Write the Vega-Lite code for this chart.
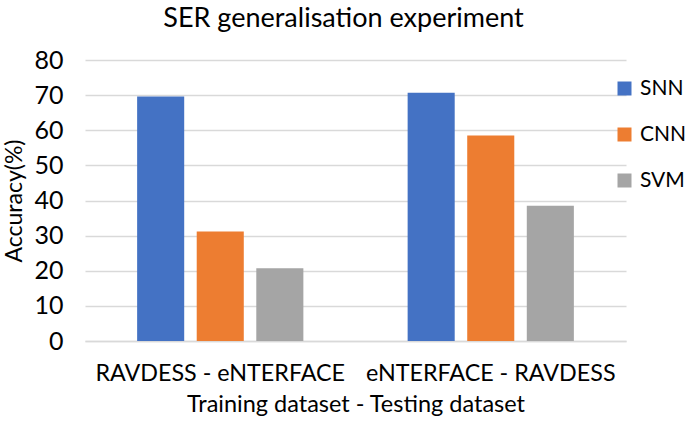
{
  "$schema": "https://vega.github.io/schema/vega-lite/v6.json",
  "width": 541,
  "height": 281,
  "autosize": {"type": "none"},
  "padding": {"left": 85, "top": 60, "right": 59, "bottom": 86},
  "background": "white",
  "config": {
    "font": "Lato",
    "view": {"stroke": null}
  },
  "title": {
    "text": "SER generalisation experiment",
    "fontSize": 27,
    "fontWeight": "normal",
    "color": "#000000",
    "anchor": "middle",
    "frame": "group",
    "offset": 15,
    "dx": -12
  },
  "data": {
    "values": [
      {"pair": "RAVDESS - eNTERFACE", "model": "SNN", "accuracy": 69.6},
      {"pair": "RAVDESS - eNTERFACE", "model": "CNN", "accuracy": 31.2},
      {"pair": "RAVDESS - eNTERFACE", "model": "SVM", "accuracy": 20.7},
      {"pair": "eNTERFACE - RAVDESS", "model": "SNN", "accuracy": 70.7},
      {"pair": "eNTERFACE - RAVDESS", "model": "CNN", "accuracy": 58.5},
      {"pair": "eNTERFACE - RAVDESS", "model": "SVM", "accuracy": 38.5}
    ]
  },
  "mark": {"type": "bar"},
  "encoding": {
    "x": {
      "field": "pair",
      "type": "nominal",
      "sort": null,
      "scale": {"paddingInner": 0, "paddingOuter": 0},
      "axis": {
        "title": "Training dataset - Testing dataset",
        "titleFontSize": 23.5,
        "titleFontWeight": "normal",
        "titleColor": "#000000",
        "titlePadding": 8,
        "labelAngle": 0,
        "labelFontSize": 23.3,
        "labelColor": "#000000",
        "labelPadding": 21,
        "labelLimit": 0,
        "ticks": false,
        "domainColor": "#d9d9d9",
        "domainWidth": 1.5
      }
    },
    "xOffset": {
      "field": "model",
      "type": "nominal",
      "sort": ["SNN", "CNN", "SVM"],
      "scale": {"paddingInner": 0.21, "paddingOuter": 0.875}
    },
    "y": {
      "field": "accuracy",
      "type": "quantitative",
      "scale": {"domain": [0, 80]},
      "axis": {
        "title": "Accuracy(%)",
        "titleFontSize": 23,
        "titleFontWeight": "normal",
        "titleColor": "#000000",
        "titlePadding": 7,
        "values": [0, 10, 20, 30, 40, 50, 60, 70, 80],
        "labelFontSize": 25,
        "labelColor": "#000000",
        "labelPadding": 22,
        "ticks": false,
        "domain": false,
        "gridColor": "#d9d9d9",
        "gridWidth": 1.5
      }
    },
    "color": {
      "field": "model",
      "type": "nominal",
      "sort": ["SNN", "CNN", "SVM"],
      "scale": {"domain": ["SNN", "CNN", "SVM"], "range": ["#4472C4", "#ED7D31", "#A5A5A5"]},
      "legend": {
        "title": null,
        "orient": "none",
        "legendX": 529,
        "legendY": 18,
        "symbolType": "square",
        "symbolSize": 196,
        "symbolStrokeWidth": 0,
        "labelFontSize": 21,
        "labelColor": "#000000",
        "rowPadding": 24,
        "labelOffset": 5
      }
    }
  }
}
